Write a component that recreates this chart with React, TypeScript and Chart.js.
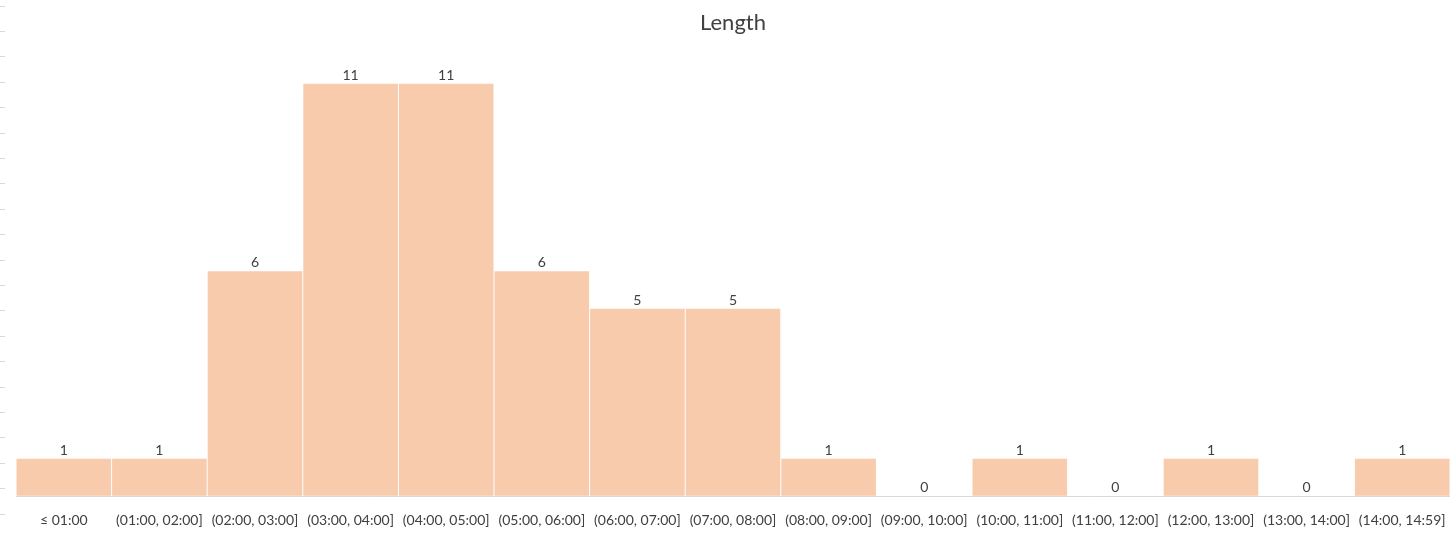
import React, { useEffect, useRef } from "react";
import { Chart, registerables } from "chart.js";

Chart.register(...registerables);

const TITLE = "Length";
const categories = [
  "≤ 01:00",
  "(01:00, 02:00]",
  "(02:00, 03:00]",
  "(03:00, 04:00]",
  "(04:00, 05:00]",
  "(05:00, 06:00]",
  "(06:00, 07:00]",
  "(07:00, 08:00]",
  "(08:00, 09:00]",
  "(09:00, 10:00]",
  "(10:00, 11:00]",
  "(11:00, 12:00]",
  "(12:00, 13:00]",
  "(13:00, 14:00]",
  "(14:00, 14:59]",
];
const counts = [1, 1, 6, 11, 11, 6, 5, 5, 1, 0, 1, 0, 1, 0, 1];

const FONT = "Lato, 'Open Sans', sans-serif";
const TEXT = "#404040";
const BAR = "#F7CBAC";
const GRID = "#D9D9D9";

const labelPlugin = {
  id: "valueLabelsAndTitle",
  afterDatasetsDraw(chart: any) {
    const ctx = chart.ctx;
    const meta = chart.getDatasetMeta(0);
    ctx.save();
    ctx.fillStyle = TEXT;
    ctx.textAlign = "center";
    ctx.textBaseline = "alphabetic";
    ctx.font = `14px ${FONT}`;
    meta.data.forEach((el: any, i: number) => {
      const v = chart.data.datasets[0].data[i];
      ctx.fillText(String(v), el.x, el.y - 4);
    });
    const { left, right } = chart.chartArea;
    ctx.font = `22px ${FONT}`;
    ctx.fillText(TITLE, (left + right) / 2, 30);
    ctx.restore();
  },
};

export default function App() {
  const ref = useRef<HTMLCanvasElement | null>(null);
  useEffect(() => {
    if (!ref.current) return;
    const chart = new Chart(ref.current, {
      type: "bar",
      data: {
        labels: categories,
        datasets: [
          {
            data: counts,
            backgroundColor: BAR,
            borderWidth: 0,
            categoryPercentage: 1,
            barPercentage: 0.9895,
          },
        ],
      },
      options: {
        responsive: false,
        animation: false,
        layout: { padding: { top: 6, bottom: 0, left: 0, right: 6 } },
        plugins: {
          legend: { display: false },
          title: { display: false },
          tooltip: { enabled: false },
        },
        scales: {
          x: {
            grid: {
              display: true,
              drawOnChartArea: false,
              drawTicks: true,
              tickLength: 51.2,
              color: "rgba(0,0,0,0)",
              tickColor: "rgba(0,0,0,0)",
            },
            border: { display: false },
            ticks: {
              color: TEXT,
              font: { family: FONT, size: 14 },
              mirror: true,
              padding: -14.2,
              maxRotation: 0,
              minRotation: 0,
              autoSkip: false,
            },
          },
          y: {
            display: true,
            min: -0.48,
            max: 13.07,
            ticks: { display: false, stepSize: 1 },
            border: { display: false },
            grid: {
              drawTicks: false,
              color: (c: any) => (c.tick && c.tick.value === 0 ? GRID : "rgba(0,0,0,0)"),
            },
          },
          y2: {
            display: true,
            position: "left",
            min: 0,
            max: 20,
            ticks: { display: false, stepSize: 1 },
            border: { display: false },
            grid: {
              drawOnChartArea: false,
              drawTicks: true,
              tickLength: 16,
              tickColor: GRID,
              tickBorderDash: [5, 40],
            },
          },
        },
      },
      plugins: [labelPlugin],
    } as any);
    return () => chart.destroy();
  }, []);
  return (
    <div style={{ position: "fixed", left: 0, top: 0, width: 1456, height: 537, background: "#fff" }}>
      <canvas ref={ref} width={1456} height={537} />
    </div>
  );
}
